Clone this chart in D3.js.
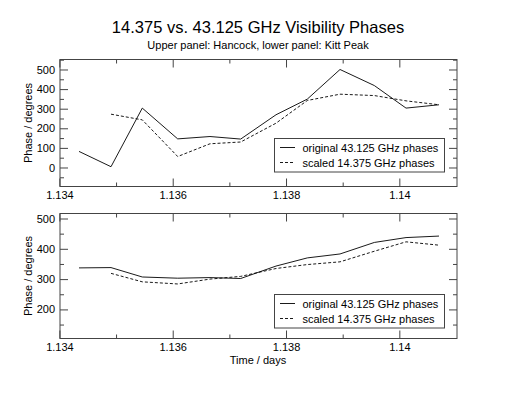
<!DOCTYPE html>
<html>
<head>
<meta charset="utf-8">
<script src="https://cdn.jsdelivr.net/npm/d3@7"></script>
<style>
  html, body { margin: 0; padding: 0; background: #fff; }
  svg { display: block; font-family: "Liberation Sans", Arial, Helvetica, sans-serif; }
</style>
</head>
<body>
<svg id="chart" width="516" height="399"></svg>
<script>
// ---- data ----
const times = [1.134346, 1.134911, 1.135463, 1.136088, 1.136658, 1.137200, 1.137823, 1.138376, 1.138953, 1.139559, 1.140118, 1.140700];
const hancockOriginal = [82, 4, 303, 146, 158, 145, 269, 349, 500, 418, 303, 320];
const hancockScaled   = [null, 272, 243, 56, 121, 130, 226, 342, 374, 367, 340, 320];
const kittOriginal    = [337, 338, 307, 303, 305, 302, 343, 370, 383, 421, 437, 442];
const kittScaled      = [null, 319, 291, 284, 300, 309, 335, 348, 357, 392, 423, 412];
const xMajorTicks = [1.134, 1.136, 1.138, 1.140];
const xMinorTicks = [1.135, 1.137, 1.139, 1.141];
const topYMajor = [0, 100, 200, 300, 400, 500];
const topYMinor = [-50, 50, 150, 250, 350, 450, 550];
const botYMajor = [200, 300, 400, 500];
const botYMinor = [150, 250, 350, 450];
const legendLabels = ["original 43.125 GHz phases", "scaled 14.375 GHz phases"];
const titleText = "14.375 vs. 43.125 GHz Visibility Phases";
const subtitleText = "Upper panel: Hancock, lower panel: Kitt Peak";
const yLabel = "Phase / degrees";
const xLabel = "Time / days";

// ---- layout ----
const svg = d3.select("#chart");
const left = 60, right = 457;
const x = d3.scaleLinear().domain([1.134, 1.141]).range([left - 0.6, right - 1]);
const fmtX = d => String(+d.toFixed(3));
const frameColor = "#444";

svg.append("text").attr("x", 258).attr("y", 32.5).attr("text-anchor", "middle")
  .attr("font-size", 16.5).attr("fill", "#000").text(titleText);
svg.append("text").attr("x", 258).attr("y", 49).attr("text-anchor", "middle")
  .attr("font-size", 11).attr("fill", "#000").text(subtitleText);

function panel(top, bottom, yDomain, yMajor, yMinor, orig, scaled, legendY, showXLabel) {
  const y = d3.scaleLinear().domain(yDomain).range([bottom, top]);
  const g = svg.append("g");

  // axes: major + minor, ticks pointing inward
  const styleAxis = sel => {
    sel.select(".domain").remove();
    sel.selectAll(".tick line").attr("stroke", frameColor);
    sel.selectAll(".tick text").attr("fill", "#000").attr("font-size", 11)
      .attr("font-family", "Liberation Sans, Arial, sans-serif");
  };
  g.append("g").attr("transform", `translate(${left},0)`)
    .call(d3.axisLeft(y).tickValues(yMajor).tickSize(-8).tickPadding(5)).call(styleAxis);
  g.append("g").attr("transform", `translate(${left},0)`)
    .call(d3.axisLeft(y).tickValues(yMinor.filter(v => v >= yDomain[0] && v <= yDomain[1])).tickSize(-4).tickFormat("")).call(styleAxis);
  g.append("g").attr("transform", `translate(${right},0)`)
    .call(d3.axisRight(y).tickValues(yMajor).tickSize(-8).tickFormat("")).call(styleAxis);
  g.append("g").attr("transform", `translate(${right},0)`)
    .call(d3.axisRight(y).tickValues(yMinor.filter(v => v >= yDomain[0] && v <= yDomain[1])).tickSize(-4).tickFormat("")).call(styleAxis);
  g.append("g").attr("transform", `translate(0,${bottom})`)
    .call(d3.axisBottom(x).tickValues(xMajorTicks).tickSize(-8).tickPadding(4.5).tickFormat(fmtX)).call(styleAxis);
  g.append("g").attr("transform", `translate(0,${bottom})`)
    .call(d3.axisBottom(x).tickValues(xMinorTicks.filter(v => x(v) < right - 2)).tickSize(-4).tickFormat("")).call(styleAxis);
  g.append("g").attr("transform", `translate(0,${top})`)
    .call(d3.axisTop(x).tickValues(xMajorTicks).tickSize(-8).tickFormat("")).call(styleAxis);
  g.append("g").attr("transform", `translate(0,${top})`)
    .call(d3.axisTop(x).tickValues(xMinorTicks.filter(v => x(v) < right - 2)).tickSize(-4).tickFormat("")).call(styleAxis);

  // frame
  g.append("rect").attr("x", left).attr("y", top).attr("width", right - left).attr("height", bottom - top)
    .attr("fill", "none").attr("stroke", frameColor).attr("stroke-width", 1);

  const line = d3.line().defined(d => d[1] != null).x(d => x(d[0])).y(d => y(d[1]));
  g.append("path").datum(times.map((t, i) => [t, orig[i]]))
    .attr("d", line).attr("fill", "none").attr("stroke", "#000").attr("stroke-width", 0.9);
  g.append("path").datum(times.map((t, i) => [t, scaled[i]]))
    .attr("d", line).attr("fill", "none").attr("stroke", "#000").attr("stroke-width", 0.9)
    .attr("stroke-dasharray", "3,2");

  // y label
  g.append("text").attr("transform", `translate(32,${(top + bottom) / 2}) rotate(-90)`)
    .attr("text-anchor", "middle").attr("font-size", 11).attr("fill", "#000").text(yLabel);

  // legend
  const lg = g.append("g");
  lg.append("rect").attr("x", 274.5).attr("y", legendY).attr("width", 170).attr("height", 33.5)
    .attr("fill", "#fff").attr("stroke", frameColor).attr("stroke-width", 1);
  legendLabels.forEach((lab, i) => {
    const ly = legendY + 9 + i * 15;
    lg.append("line").attr("x1", 280).attr("x2", 295).attr("y1", ly).attr("y2", ly)
      .attr("stroke", "#000").attr("stroke-width", 0.9)
      .attr("stroke-dasharray", i === 1 ? "3,2" : null);
    lg.append("text").attr("x", 302.5).attr("y", ly + 4).attr("font-size", 11)
      .attr("fill", "#000").text(lab);
  });

  if (showXLabel) {
    svg.append("text").attr("x", 258).attr("y", 364).attr("text-anchor", "middle")
      .attr("font-size", 11).attr("fill", "#000").text(xLabel);
  }
}

panel(59.5, 186.5, [-97, 551], topYMajor, topYMinor, hancockOriginal, hancockScaled, 138.5, false);
panel(213.5, 338.5, [104, 516.5], botYMajor, botYMinor, kittOriginal, kittScaled, 294.5, true);
</script>
</body>
</html>
